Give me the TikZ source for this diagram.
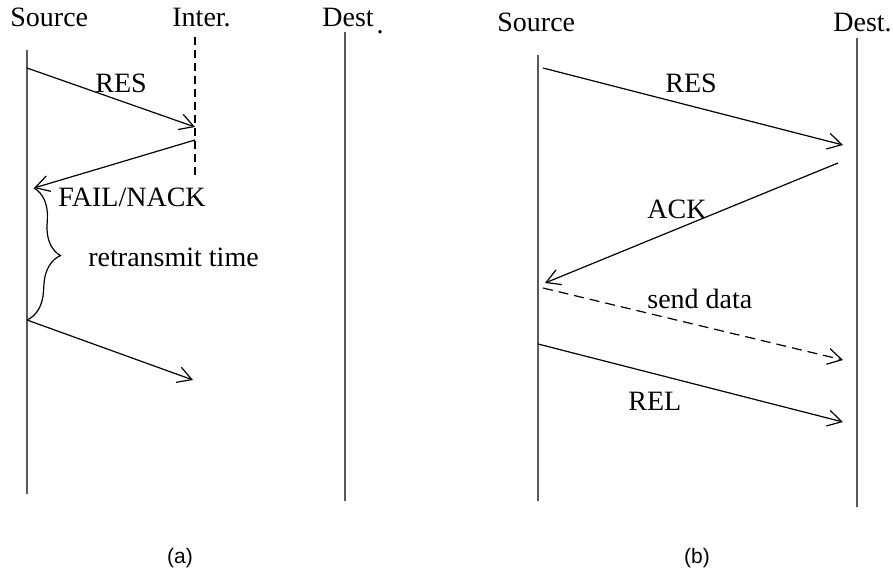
\documentclass[tikz,border=0pt]{standalone}
\usepackage{fontspec}
\setmainfont{Liberation Serif}
\setsansfont{Liberation Sans}
\usetikzlibrary{arrows.meta,positioning,decorations.pathreplacing}

\begin{document}
\begin{tikzpicture}
    [
    x=0.5pt, y=-0.5pt,
    txt/.style ={
        font=\fontsize{14}{16}\selectfont,
        inner sep=0pt,
        anchor=base west
    },
    caption/.style ={
        font=\sffamily\fontsize{10.5}{12}\selectfont,
        inner sep=0pt
    },
    life/.style ={
        draw=black!65,
        line width=0.9pt
    },
    interlife/.style ={
        draw,
        line width=0.6pt,
        dash pattern=on 4pt off 2.5pt
    },
    a/.style={
        draw,
        line width=0.6pt,
        -{Straight Barb[length=7pt,width=8pt]}
    },
    adashed/.style={
        a,
        dash pattern=on 5pt off 3pt
    }
    ]
    \useasboundingbox (0,0) rectangle (893,573);

    % (a) source, intermediate node, destination
    \node[txt] (srcA) at (10,26) {Source};
    \node[txt] (interA) at (172,26) {Inter.};
    \node[txt] (destA) at (322,26) {Dest\hspace{1.5pt}\raisebox{-3.5pt}{.}};

    \coordinate (srcAtop) at (27,50);
    \coordinate (srcAbot) at (27,494);
    \coordinate (interAtop) at (195,37);
    \coordinate (interAbot) at (195,175);
    \coordinate (destAtop) at (345,32);
    \coordinate (destAbot) at (345,501);
    \draw[life] (srcAtop) -- (srcAbot);
    \draw[interlife] (interAtop) -- (interAbot);
    \draw[life] (destAtop) -- (destAbot);

    \coordinate (resA1) at (27,68);
    \coordinate (resA2) at (195,127);
    \coordinate (failA1) at (195,140);
    \coordinate (failA2) at (34,188);
    \coordinate (retryA1) at (27,320);
    \coordinate (retryA2) at (193,380);

    \draw[a] (resA1) -- (resA2);
    \draw[a] (failA1) -- (failA2);
    \draw[a] (retryA1) -- (retryA2);
    \draw[line width=0.6pt, decorate, decoration={brace, amplitude=15pt}] (failA2) -- (retryA1);

    \node[txt] (resAlabel) at (95,92) {RES};
    \node[txt] (failAlabel) at (58,206) {FAIL/NACK};
    \node[txt] (retryAlabel) at (88,266) {retransmit time};

    % (b) source and destination
    \node[txt] (srcB) at (497,32) {Source};
    \node[txt] (destB) at (833,32) {Dest.};

    \coordinate (srcBtop) at (538,55);
    \coordinate (srcBbot) at (538,501);
    \coordinate (destBtop) at (857,38);
    \coordinate (destBbot) at (857,507);
    \draw[life] (srcBtop) -- (srcBbot);
    \draw[life] (destBtop) -- (destBbot);

    \coordinate (resB1) at (543,68);
    \coordinate (resB2) at (843,145);
    \coordinate (ackB1) at (838,163);
    \coordinate (ackB2) at (545,283);
    \coordinate (dataB1) at (543,288);
    \coordinate (dataB2) at (843,360);
    \coordinate (relB1) at (538,344);
    \coordinate (relB2) at (843,422);

    \draw[a] (resB1) -- (resB2);
    \draw[a] (ackB1) -- (ackB2);
    \draw[adashed] (dataB1) -- (dataB2);
    \draw[a] (relB1) -- (relB2);

    \node[txt] (resBlabel) at (665,92) {RES};
    \node[txt] (ackBlabel) at (647,218) {ACK};
    \node[txt] (dataBlabel) at (647,308) {send data};
    \node[txt] (relBlabel) at (628,410) {REL};

    \node[caption] (capA) at (180,558) {(a)};
    \node[caption] (capB) at (697,558) {(b)};
\end{tikzpicture}
\end{document}
